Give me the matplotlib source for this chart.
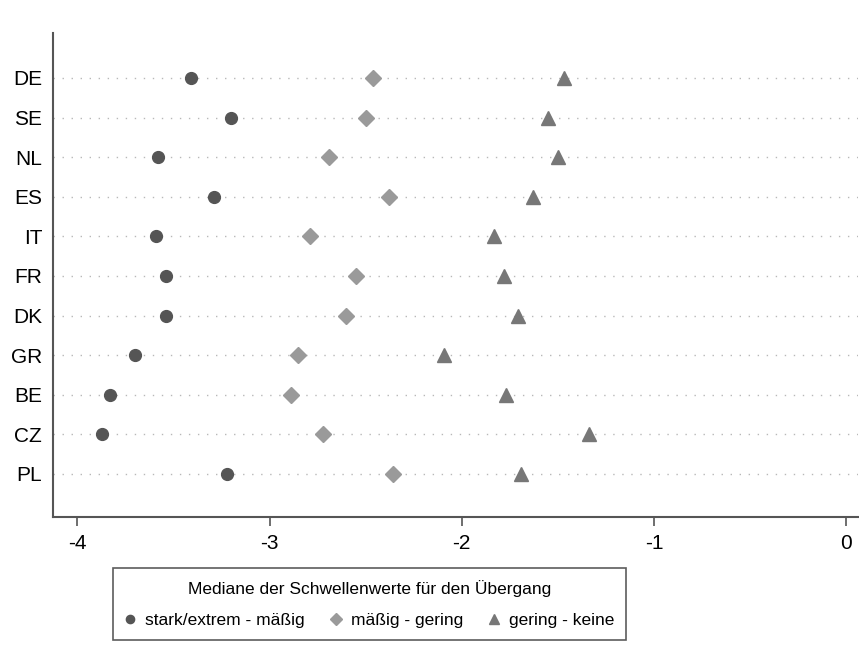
import matplotlib.pyplot as plt
import numpy as np

plt.rcParams['font.family'] = ['Liberation Sans', 'DejaVu Sans']

countries = ['DE', 'SE', 'NL', 'ES', 'IT', 'FR', 'DK', 'GR', 'BE', 'CZ', 'PL']
stark_maessig = [-3.41, -3.20, -3.58, -3.29, -3.59, -3.54, -3.54, -3.70, -3.83, -3.87, -3.22]
maessig_gering = [-2.46, -2.50, -2.69, -2.38, -2.79, -2.55, -2.60, -2.85, -2.89, -2.72, -2.36]
gering_keine = [-1.47, -1.55, -1.50, -1.63, -1.83, -1.78, -1.71, -2.09, -1.77, -1.34, -1.69]

legend_title = 'Mediane der Schwellenwerte für den Übergang'
labels = ['stark/extrem - mäßig', 'mäßig - gering', 'gering - keine']

ypos = np.arange(len(countries))[::-1] + 1

fig = plt.figure(figsize=(8.59, 6.69), dpi=100)
ax = fig.add_axes([0.062, 0.227, 0.937, 0.724])

# dotted row guides
for y in ypos:
    ax.axhline(y, color='#b8b8b8', lw=1.0, ls=(0, (1, 5.5)), zorder=1)

ax.plot(stark_maessig, ypos, 'o', color='#555555', ms=8.5, ls='none', zorder=3, label=labels[0])
ax.plot(maessig_gering, ypos, 'D', color='#9a9a9a', ms=8.5, ls='none', zorder=3, label=labels[1])
ax.plot(gering_keine, ypos, '^', color='#777777', ms=10, ls='none', zorder=3, label=labels[2])

ax.set_xlim(-4.125, 0.062)
ax.set_ylim(-0.09, 12.14)
ax.set_yticks(ypos)
ax.set_yticklabels(countries)
ax.set_xticks([-4, -3, -2, -1, 0])
ax.set_xticklabels(['-4', '-3', '-2', '-1', '0'])

for s in ['top', 'right']:
    ax.spines[s].set_visible(False)
for s in ['left', 'bottom']:
    ax.spines[s].set_color('#555555')
    ax.spines[s].set_linewidth(1.5)

ax.tick_params(axis='y', length=0, pad=8, labelsize=15)
ax.tick_params(axis='x', length=6.5, width=1.2, color='#555555', pad=6, labelsize=15)

leg = ax.legend(title=legend_title, loc='upper center', bbox_to_anchor=(0.393, -0.105),
                ncol=3, fontsize=12.5, title_fontsize=12.5, frameon=True, fancybox=False,
                edgecolor='#333333', handletextpad=0.55, columnspacing=1.5,
                markerscale=0.7, borderpad=0.7, labelspacing=0.9, handlelength=0.6,
                borderaxespad=0)
leg.get_frame().set_linewidth(1.2)

fig.savefig('out.png', dpi=100)
